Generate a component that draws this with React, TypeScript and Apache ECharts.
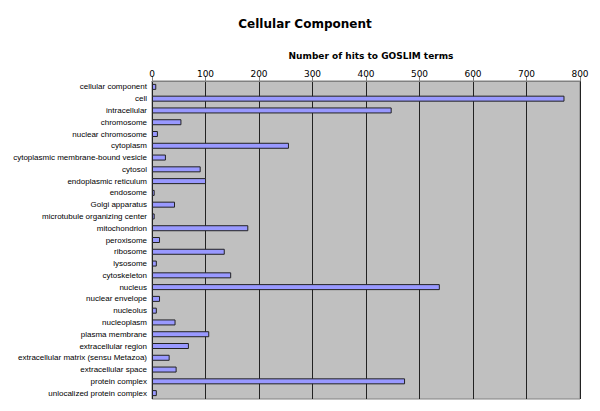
import React, { useEffect, useRef } from "react";
import * as echarts from "echarts";

const categories = [
  "cellular component", "cell", "intracellular", "chromosome", "nuclear chromosome",
  "cytoplasm", "cytoplasmic membrane-bound vesicle", "cytosol", "endoplasmic reticulum",
  "endosome", "Golgi apparatus", "microtubule organizing center", "mitochondrion",
  "peroxisome", "ribosome", "lysosome", "cytoskeleton", "nucleus", "nuclear envelope",
  "nucleolus", "nucleoplasm", "plasma membrane", "extracellular region",
  "extracellular matrix (sensu Metazoa)", "extracellular space", "protein complex",
  "unlocalized protein complex",
];
const hits = [
  8, 771, 448, 55, 11, 256, 26, 91, 101, 5, 43, 5, 180, 15, 136, 9, 148, 538, 15, 9,
  44, 107, 69, 33, 46, 473, 9,
];
const chartTitle = "Cellular Component";
const axisTitle = "Number of hits to GOSLIM terms";

export default function App() {
  const ref = useRef<HTMLDivElement>(null);
  useEffect(() => {
    const chart = echarts.init(ref.current!, null, { renderer: "svg" });
    chart.setOption({
      animation: false,
      backgroundColor: "#ffffff",
      title: [
        {
          text: chartTitle,
          left: 300,
          top: 13,
          textAlign: "center",
          textStyle: { fontFamily: "DejaVu Sans", fontWeight: "bold", fontSize: 12, color: "#000" },
        },
        {
          text: axisTitle,
          left: 366,
          top: 46,
          textAlign: "center",
          textStyle: { fontFamily: "DejaVu Sans", fontWeight: "bold", fontSize: 9, color: "#000" },
        },
      ],
      grid: { left: 152, right: 20, top: 81, bottom: 12, show: true, backgroundColor: "#c0c0c0", borderColor: "#808080", borderWidth: 1 },
      xAxis: {
        type: "value",
        position: "top",
        min: 0,
        max: 800,
        interval: 100,
        axisLine: { show: true, lineStyle: { color: "#808080" } },
        axisTick: { show: true, length: 5, lineStyle: { color: "#808080" } },
        axisLabel: { fontFamily: "DejaVu Sans", fontSize: 9, color: "#000", margin: 3 },
        splitLine: { show: true, lineStyle: { color: "#222", width: 1 } },
      },
      yAxis: {
        type: "category",
        data: categories,
        inverse: true,
        axisLine: { show: false },
        axisTick: { show: false },
        axisLabel: { fontFamily: "Liberation Sans", fontSize: 8, color: "#000", margin: 5 },
      },
      series: [
        {
          type: "bar",
          data: hits,
          barWidth: 6,
          itemStyle: { color: "#9999ff", borderColor: "#222", borderWidth: 1 },
        },
      ],
    });
    return () => chart.dispose();
  }, []);
  return <div ref={ref} style={{ width: 600, height: 411, margin: -8 }} />;
}
